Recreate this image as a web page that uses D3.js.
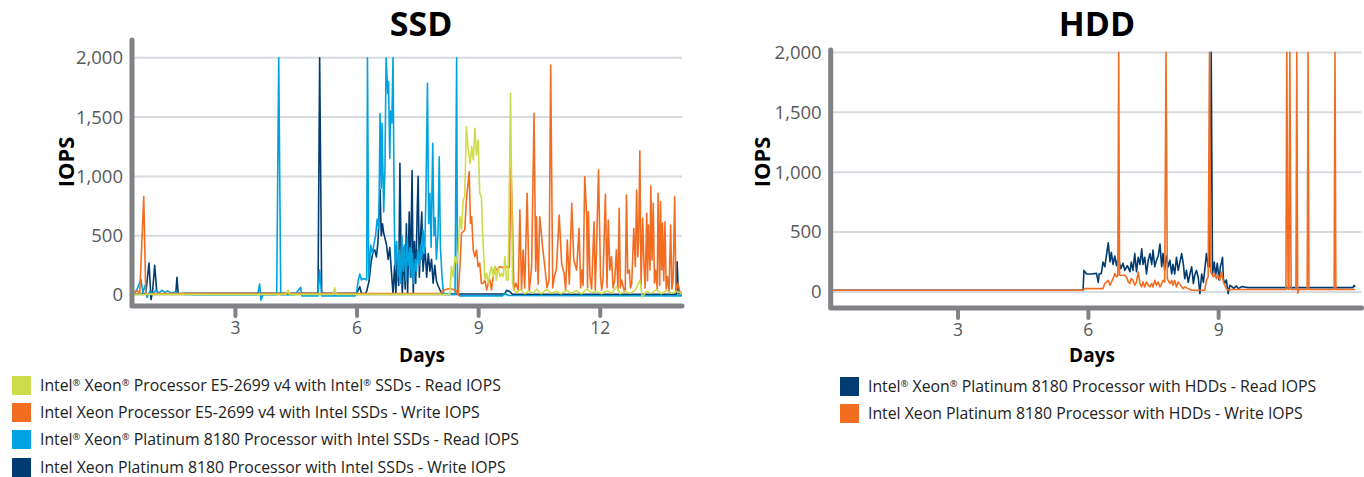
<!DOCTYPE html>
<html><head><meta charset="utf-8">
<script src="https://cdn.jsdelivr.net/npm/d3@7"></script>
<style>body{margin:0;background:#fff;} svg{display:block;font-family:"Open Sans",sans-serif;}</style>
</head><body><svg id="c" width="1364" height="477"></svg>
<script>
// ---------------- DATA ----------------
const yTicks = [0, 500, 1000, 1500, 2000];
const ssdXTicks = [3, 6, 9, 12];
const hddXTicks = [3, 6, 9];

const ssdLegend = [
  "Intel® Xeon® Processor E5-2699 v4 with Intel® SSDs - Read IOPS",
  "Intel Xeon Processor E5-2699 v4 with Intel SSDs - Write IOPS",
  "Intel® Xeon® Platinum 8180 Processor with Intel SSDs - Read IOPS",
  "Intel Xeon Platinum 8180 Processor with Intel SSDs - Write IOPS"
];
const hddLegend = [
  "Intel® Xeon® Platinum 8180 Processor with HDDs - Read IOPS",
  "Intel Xeon Platinum 8180 Processor with HDDs - Write IOPS"
];

// [day, IOPS]
const ssdE5Read = [[0.46,5],[4.25,5],[4.31,40],[4.35,5],[5.42,5],[5.46,60],[5.50,5],[8.30,5],[8.34,239],[8.38,155],[8.43,323],[8.47,267],[8.51,379],[8.55,660],[8.59,548],[8.63,801],[8.67,829],[8.71,1420],[8.75,1250],[8.80,1110],[8.84,1251],[8.88,1138],[8.92,1405],[8.96,1180],[9.00,1307],[9.04,857],[9.08,829],[9.11,520],[9.14,323],[9.17,126],[9.21,183],[9.25,98],[9.29,183],[9.33,239],[9.37,155],[9.41,239],[9.45,126],[9.49,239],[9.54,155],[9.58,183],[9.62,155],[9.66,323],[9.70,126],[9.74,126],[9.80,1700],[9.82,1082],[9.85,98],[9.88,42],[9.95,20],[10.05,45],[10.15,10],[10.25,35],[10.35,15],[10.45,50],[10.55,10],[10.69,45],[10.80,15],[10.92,30],[11.05,10],[11.18,40],[11.30,15],[11.42,35],[11.55,10],[11.68,50],[11.80,20],[11.92,30],[12.05,10],[12.18,35],[12.30,15],[12.41,70],[12.50,10],[12.62,30],[12.75,15],[12.88,40],[12.99,126],[13.05,-20],[13.15,30],[13.28,15],[13.40,45],[13.52,10],[13.65,35],[13.78,15],[13.90,30],[14.03,10]];

const ssdE5Write = [[0.46,0],[0.58,40],[0.65,10],[0.75,830],[0.80,5],[1.00,12],[8.05,12],[8.15,40],[8.30,55],[8.45,40],[8.51,0],[8.55,239],[8.59,520],[8.67,548],[8.71,801],[8.78,1040],[8.81,604],[8.84,660],[8.88,379],[8.92,323],[8.96,379],[9.00,239],[9.04,267],[9.08,98],[9.12,98],[9.17,126],[9.21,42],[9.25,98],[9.29,126],[9.33,42],[9.37,155],[9.41,239],[9.45,210],[9.54,239],[9.62,230],[9.70,239],[9.77,230],[9.81,1082],[9.85,600],[9.88,42],[9.93,98],[9.99,42],[10.03,717],[10.07,42],[10.11,379],[10.15,60],[10.21,857],[10.26,30],[10.32,239],[10.38,1532],[10.42,200],[10.44,660],[10.48,90],[10.52,660],[10.59,407],[10.65,225],[10.70,60],[10.75,126],[10.79,1939],[10.84,60],[10.88,155],[10.93,210],[11.00,674],[11.06,267],[11.12,183],[11.16,40],[11.20,463],[11.25,90],[11.31,773],[11.36,295],[11.43,210],[11.49,562],[11.53,60],[11.56,210],[11.59,80],[11.63,998],[11.68,660],[11.70,60],[11.72,702],[11.76,155],[11.80,50],[11.86,618],[11.89,40],[11.92,379],[11.97,1054],[12.02,155],[12.05,40],[12.08,126],[12.14,851],[12.18,60],[12.21,632],[12.25,210],[12.29,323],[12.33,60],[12.37,126],[12.41,379],[12.45,40],[12.48,731],[12.51,60],[12.54,126],[12.60,40],[12.63,42],[12.66,843],[12.69,183],[12.73,210],[12.76,60],[12.79,98],[12.84,562],[12.88,239],[12.91,885],[12.94,323],[12.96,464],[12.99,1216],[13.02,80],[13.06,646],[13.09,267],[13.12,60],[13.16,689],[13.18,120],[13.20,590],[13.24,210],[13.26,919],[13.29,295],[13.32,773],[13.35,100],[13.38,210],[13.42,50],[13.44,857],[13.48,80],[13.50,787],[13.53,210],[13.55,604],[13.58,120],[13.61,618],[13.64,50],[13.67,155],[13.71,30],[13.75,590],[13.78,50],[13.81,126],[13.85,829],[13.88,30],[13.93,98],[13.98,20],[14.03,20]];

const ssdPlatRead = [[0.46,0],[0.53,20],[0.60,60],[0.68,132],[0.73,20],[0.78,80],[0.83,-20],[0.90,30],[0.97,10],[1.05,40],[1.12,15],[1.20,40],[1.27,20],[1.34,35],[1.42,15],[1.52,25],[1.64,10],[1.76,5],[2.13,3],[3.56,3],[3.61,93],[3.64,-45],[3.69,3],[4.03,3],[4.08,2000],[4.13,3],[4.48,3],[4.62,65],[4.65,-8],[5.05,-8],[5.09,210],[5.14,-8],[5.96,-8],[6.00,20],[6.04,120],[6.08,177],[6.12,126],[6.18,140],[6.25,126],[6.27,2000],[6.30,150],[6.35,420],[6.39,350],[6.43,430],[6.47,500],[6.51,640],[6.55,560],[6.58,1530],[6.61,900],[6.63,1447],[6.67,700],[6.70,1050],[6.73,2000],[6.77,1700],[6.79,1800],[6.82,1150],[6.84,1550],[6.87,1450],[6.90,2000],[6.93,700],[6.95,250],[6.99,450],[7.02,150],[7.05,380],[7.09,100],[7.12,500],[7.15,200],[7.18,420],[7.22,120],[7.25,480],[7.28,250],[7.32,400],[7.35,150],[7.38,350],[7.41,100],[7.45,300],[7.48,200],[7.51,380],[7.55,250],[7.58,420],[7.61,300],[7.64,550],[7.68,350],[7.71,800],[7.75,1785],[7.78,600],[7.81,857],[7.84,400],[7.88,1279],[7.91,500],[7.94,650],[7.97,300],[8.01,520],[8.04,1166],[8.07,400],[8.11,150],[8.14,30],[8.18,5],[8.43,5],[8.47,2000],[8.49,20],[8.55,-8],[9.60,-8],[9.65,15],[9.75,-5],[14.03,-8]];

const ssdPlatWrite = [[0.46,5],[0.65,10],[0.80,15],[0.88,270],[0.93,-40],[0.97,40],[1.02,250],[1.07,30],[1.15,10],[1.54,10],[1.57,150],[1.60,10],[1.76,15],[5.05,15],[5.09,2000],[5.14,15],[5.96,15],[6.00,10],[6.04,40],[6.08,70],[6.12,15],[6.21,10],[6.25,30],[6.31,120],[6.36,280],[6.41,370],[6.45,380],[6.49,320],[6.53,450],[6.58,890],[6.61,500],[6.64,600],[6.67,520],[6.70,480],[6.74,420],[6.78,300],[6.82,400],[6.86,200],[6.90,10],[6.94,250],[6.97,10],[7.00,300],[7.04,80],[7.07,1110],[7.10,300],[7.13,10],[7.17,400],[7.20,50],[7.23,600],[7.26,10],[7.30,700],[7.33,150],[7.37,1050],[7.40,10],[7.43,450],[7.46,100],[7.50,750],[7.52,1000],[7.55,150],[7.58,500],[7.61,700],[7.64,200],[7.69,400],[7.73,150],[7.77,350],[7.81,200],[7.85,300],[7.89,100],[7.93,250],[7.97,120],[8.01,80],[8.06,40],[8.10,15],[8.20,8],[9.66,8],[9.70,40],[9.78,30],[9.83,10],[9.86,5],[13.89,5],[13.91,280],[13.94,10],[14.03,10]];

const hddRead = [[0.08,14],[5.70,14],[5.89,14],[5.91,180],[5.97,150],[6.08,150],[6.20,155],[6.24,80],[6.26,150],[6.31,155],[6.35,250],[6.39,210],[6.47,410],[6.51,250],[6.54,330],[6.58,230],[6.62,300],[6.66,220],[6.70,290],[6.76,195],[6.81,240],[6.85,180],[6.91,220],[6.97,170],[7.00,250],[7.04,180],[7.08,320],[7.12,170],[7.16,290],[7.20,230],[7.24,360],[7.27,230],[7.31,290],[7.35,150],[7.39,265],[7.43,320],[7.47,230],[7.50,350],[7.54,210],[7.58,265],[7.62,300],[7.66,400],[7.70,210],[7.73,320],[7.77,180],[7.81,300],[7.85,210],[7.89,265],[7.93,150],[7.96,230],[8.00,150],[8.04,290],[8.08,180],[8.16,320],[8.20,230],[8.23,110],[8.27,180],[8.31,80],[8.35,150],[8.39,210],[8.43,70],[8.46,140],[8.50,180],[8.54,125],[8.58,-15],[8.62,150],[8.66,80],[8.69,180],[8.73,320],[8.77,210],[8.81,210],[8.84,2000],[8.87,150],[8.91,250],[8.94,130],[8.98,240],[9.02,100],[9.05,210],[9.08,250],[9.10,290],[9.12,110],[9.15,70],[9.19,100],[9.23,-14],[9.27,55],[9.31,45],[9.36,30],[9.42,50],[9.46,30],[9.50,35],[9.55,45],[9.62,40],[9.70,36],[12.10,36],[12.13,55],[12.15,40]];

const hddWrite = [[0.08,14],[5.89,14],[5.93,28],[6.35,28],[6.39,70],[6.47,97],[6.51,56],[6.58,111],[6.62,153],[6.66,125],[6.69,140],[6.71,2000],[6.73,140],[6.77,139],[6.85,139],[6.89,125],[6.93,84],[6.97,70],[7.00,111],[7.04,97],[7.08,56],[7.12,84],[7.16,167],[7.20,70],[7.24,42],[7.27,84],[7.31,42],[7.35,84],[7.39,56],[7.43,42],[7.47,70],[7.50,42],[7.54,97],[7.58,56],[7.62,84],[7.66,42],[7.70,70],[7.73,97],[7.77,84],[7.80,2000],[7.83,111],[7.89,70],[7.93,97],[7.96,56],[8.00,97],[8.04,42],[8.08,84],[8.16,42],[8.20,28],[8.23,42],[8.31,28],[8.39,14],[8.69,14],[8.73,97],[8.77,125],[8.80,2000],[8.83,167],[8.89,125],[8.92,153],[8.96,111],[9.00,139],[9.04,97],[9.08,167],[9.12,84],[9.15,56],[9.19,28],[9.23,14],[9.30,20],[10.56,20],[10.58,2000],[10.61,20],[10.63,20],[10.65,2000],[10.68,20],[10.79,20],[10.81,2000],[10.83,-10],[10.86,20],[11.05,20],[11.07,2000],[11.09,20],[11.67,20],[11.69,2000],[11.71,20],[12.15,20]];

// ---------------- STYLE ----------------
const C = {green:"#cddc4a", orange:"#f36d21", light:"#00a3e0", dark:"#003c71",
           grid:"#d7dbe0", axis:"#808285", tick:"#58595b"};

const svg = d3.select("#c");

function richText(sel, str){
  const parts = str.split("®");
  parts.forEach((p,i)=>{
    if(i>0){
      sel.append("tspan").attr("font-size","0.6em").attr("dy","-5").text("®");
      sel.append("tspan").attr("dy","5").text(p);
    } else sel.append("tspan").text(p);
  });
}

function panel(p){
  const x = d3.scaleLinear().domain(p.xDomain).range(p.xRange);
  const y = d3.scaleLinear().domain(p.yDomain).range(p.yRange);
  const g = svg.append("g");
  const [x0,x1] = p.xRange, [yb,yt] = p.yRange;

  // grid
  g.append("g").selectAll("line").data(yTicks).join("line")
    .attr("x1",x0+2).attr("x2",x1).attr("y1",d=>y(d)).attr("y2",d=>y(d))
    .attr("stroke",C.grid).attr("stroke-width",2);

  // y tick labels
  const ya = g.append("g").attr("transform",`translate(${x0},0)`)
    .call(d3.axisLeft(y).tickValues(yTicks).tickFormat(d3.format(",")).tickSize(0).tickPadding(9));
  ya.select(".domain").remove();
  ya.selectAll("text").attr("fill",C.tick).style("font-size","18.5px").style("font-family","'Open Sans',sans-serif");

  // x axis ticks
  const xa = g.append("g").attr("transform",`translate(0,${yb})`)
    .call(d3.axisBottom(x).tickValues(p.xTicks).tickFormat(d3.format("d")).tickSize(10).tickPadding(6));
  xa.select(".domain").remove();
  xa.selectAll("line").attr("stroke",C.axis).attr("stroke-width",4).attr("stroke-linecap","round");
  xa.selectAll("text").attr("fill",C.tick).style("font-size","17.5px").style("font-family","'Open Sans',sans-serif");

  // series
  const line = d3.line().x(d=>x(d[0])).y(d=>y(d[1]));
  p.series.forEach(s=>{
    g.append("path").datum(s.data).attr("d",line).attr("fill","none")
      .attr("stroke",s.color).attr("stroke-width",1.6).attr("stroke-linejoin","round");
  });

  // axis lines
  g.append("path").attr("d",`M${x0},${yt}V${yb}H${x1}`).attr("fill","none")
    .attr("stroke",C.axis).attr("stroke-width",5).attr("stroke-linecap","round").attr("stroke-linejoin","round");

  // titles
  g.append("text").attr("x",p.titleX).attr("y",36).attr("text-anchor","middle")
    .style("font-size","34px").style("font-weight","700").attr("fill","#000").text(p.title);
  g.append("text").attr("x",p.daysX).attr("y",362).attr("text-anchor","middle")
    .style("font-size","19px").style("font-weight","700").attr("fill","#000").text("Days");
  g.append("text").attr("transform",`translate(${p.iopsX},162) rotate(-90)`).attr("text-anchor","middle")
    .style("font-size","22px").style("font-weight","700").attr("fill","#000").text("IOPS");

  // legend
  const lg = g.append("g");
  p.legend.forEach((t,i)=>{
    const cy = p.legendY[i];
    lg.append("rect").attr("x",p.legendX).attr("y",cy-9).attr("width",19).attr("height",19).attr("fill",p.legendColors[i]);
    const tx = lg.append("text").attr("x",p.legendX+28).attr("y",cy+6).style("font-size","15.8px").attr("fill","#222");
    richText(tx,t);
  });
}

panel({
  title:"SSD", titleX:421, daysX:422, iopsX:74,
  xDomain:[0.46,14.03], xRange:[132,682], yDomain:[-93,2150], yRange:[306,40],
  xTicks:ssdXTicks,
  series:[{data:ssdPlatWrite,color:C.dark},{data:ssdPlatRead,color:C.light},{data:ssdE5Write,color:C.orange},{data:ssdE5Read,color:C.green}],
  legend:ssdLegend, legendColors:[C.green,C.orange,C.light,C.dark], legendX:12, legendY:[385,412,439,467]
});
panel({
  title:"HDD", titleX:1097, daysX:1092, iopsX:770,
  xDomain:[0.08,12.3], xRange:[830.7,1361.5], yDomain:[-134,2020], yRange:[308,50],
  xTicks:hddXTicks,
  series:[{data:hddRead,color:C.dark},{data:hddWrite,color:C.orange}],
  legend:hddLegend, legendColors:[C.dark,C.orange], legendX:840, legendY:[386,413]
});
</script></body></html>
